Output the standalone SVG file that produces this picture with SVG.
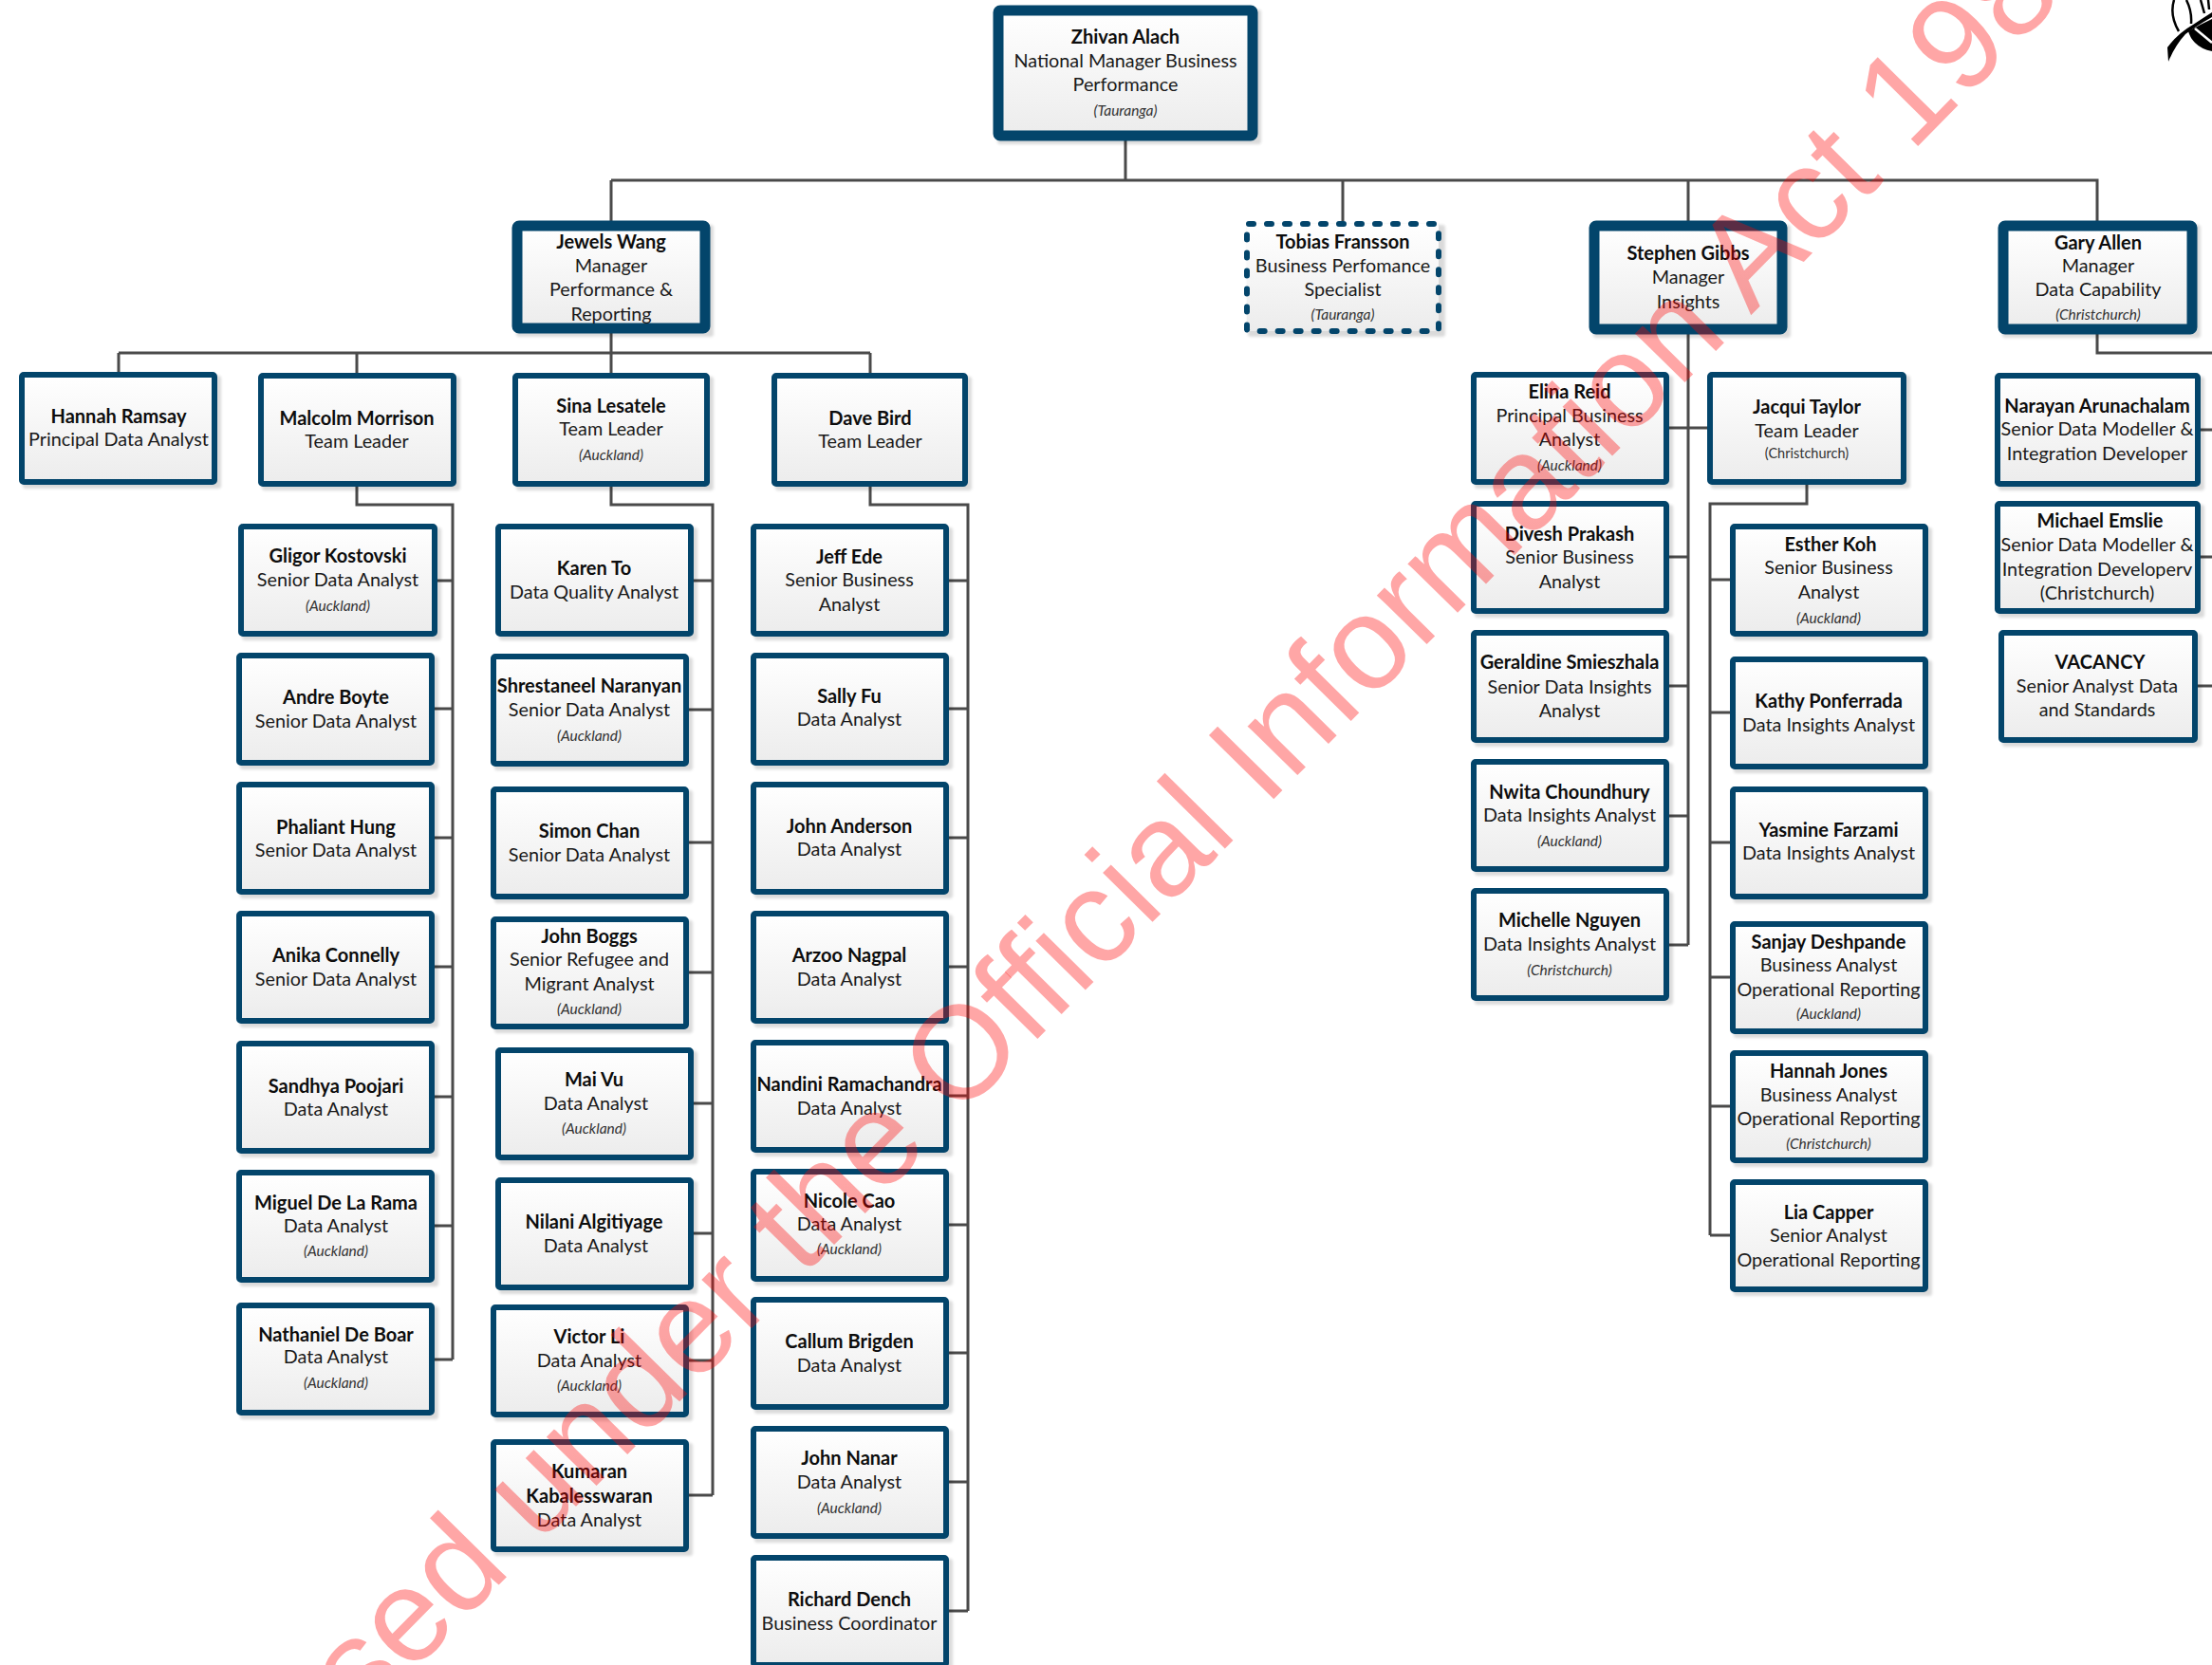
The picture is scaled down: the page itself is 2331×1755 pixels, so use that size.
<svg xmlns="http://www.w3.org/2000/svg" width="2331" height="1755" viewBox="0 0 2331 1755">
<style>
text{font-family:Lato,"Liberation Sans",sans-serif;text-anchor:middle;fill:#1a1a1a;font-size:19.8px}
.n{font-weight:700;fill:#0d0d0d;font-size:20px;transform:translateY(1px)}
.l{font-style:italic;font-size:15.5px;fill:#333}
.p{font-size:14.5px;fill:#333}
.b{fill:url(#g);stroke:#03456b;stroke-width:6}
.t{fill:url(#g);stroke:#03456b;stroke-width:11}
.d{fill:url(#g);stroke:#03456b;stroke-width:6;stroke-dasharray:5 14;stroke-linecap:round}
.s{fill:#000;opacity:.14;filter:url(#f)}
#connectors path{fill:none;stroke:#4a4a4a;stroke-width:3}
#watermark text{font-family:"Liberation Sans",Arial,sans-serif;font-size:139.5px;fill:#f00;fill-opacity:.35}
</style>
<defs>
<linearGradient id="g" x1="0" y1="0" x2="0" y2="1"><stop offset="0" stop-color="#fff"/><stop offset="1" stop-color="#ececec"/></linearGradient>
<filter id="f" x="-5%" y="-5%" width="110%" height="110%"><feGaussianBlur stdDeviation="1.5"/></filter>
</defs>
<rect width="2331" height="1755" fill="#fff"/>
<g id="connectors">
<path d="M1186 148V190M644 190H2210V233M644 190V233M1415 190V233M1779 190V996"/>
<path d="M644 351V372M125 372H917M125 372V392M376 372V393M644 372V393M917 372V393"/>
<path d="M376 513V532H477V1433M644 513V532H751V1576M917 513V532H1020V1698"/>
<path d="M459 612H477M456 747H477M456 883H477M456 1019H477M456 1156H477M456 1292H477M456 1433H477"/>
<path d="M728 612H751M724 748H751M724 888H751M724 1025H751M728 1163H751M728 1300H751M724 1434H751M724 1576H751"/>
<path d="M998 612H1020M998 747H1020M998 883H1020M998 1019H1020M998 1155H1020M998 1291H1020M998 1426H1020M998 1562H1020M998 1698H1020"/>
<path d="M1757 451H1800M1757 587H1779M1757 723H1779M1757 860H1779M1757 996H1779"/>
<path d="M1904 511V531H1802V1302M1802 611H1825M1802 751H1825M1802 888H1825M1802 1030H1825M1802 1166H1825M1802 1302H1825"/>
<path d="M2210 352V372H2331M2317 453H2331M2317 587H2331M2314 723H2331"/>
</g>
<g id="logo">
<path d="M2285 65L2284 50Q2295 35 2311 26Q2320 20 2331 13V18Q2315 27 2303 36Q2292 48 2285 65Z" fill="#000"/>
<path d="M2306 33Q2318 26 2331 20V54Q2320 52 2313 45Q2308 40 2306 33Z" fill="#000"/>
<path d="M2313 30L2331 45" stroke="#fff" stroke-width="2.5" fill="none"/>
<path d="M2291 0Q2286 16 2296 33M2304 0Q2310 12 2309 25M2319 0L2323 14M2327 0L2328 10" stroke="#000" stroke-width="2.5" fill="none"/>
</g>
<g id="n1"><rect class="s" x="1051" y="10" width="278" height="142" rx="3"/><rect class="t" x="1052" y="11" width="268" height="132" rx="2"/><text class="n" x="1186" y="45">Zhivan Alach</text><text x="1186" y="71">National Manager Business</text><text x="1186" y="96">Performance</text><text class="l" x="1186" y="122">(Tauranga)</text></g>
<g id="n2"><rect class="s" x="544" y="237" width="208" height="118" rx="3"/><rect class="t" x="545" y="238" width="198" height="108" rx="2"/><text class="n" x="644" y="261">Jewels Wang</text><text x="644" y="287">Manager</text><text x="644" y="312">Performance &amp;</text><text x="644" y="338">Reporting</text></g>
<g id="n3"><rect class="s" x="1315" y="237" width="208" height="118" rx="3"/><rect class="d" x="1314" y="236" width="202" height="113" rx="2"/><text class="n" x="1415" y="261">Tobias Fransson</text><text x="1415" y="287">Business Perfomance</text><text x="1415" y="312">Specialist</text><text class="l" x="1415" y="337">(Tauranga)</text></g>
<g id="n4"><rect class="s" x="1679" y="237" width="208" height="119" rx="3"/><rect class="t" x="1680" y="238" width="198" height="109" rx="2"/><text class="n" x="1779" y="273">Stephen Gibbs</text><text x="1779" y="299">Manager</text><text x="1779" y="325">Insights</text></g>
<g id="n5"><rect class="s" x="2110" y="237" width="209" height="119" rx="3"/><rect class="t" x="2111" y="238" width="199" height="109" rx="2"/><text class="n" x="2211" y="262">Gary Allen</text><text x="2211" y="287">Manager</text><text x="2211" y="312">Data Capability</text><text class="l" x="2211" y="337">(Christchurch)</text></g>
<g id="n6"><rect class="s" x="24" y="396" width="209" height="119" rx="3"/><rect class="b" x="23" y="395" width="203" height="113" rx="2"/><text class="n" x="125" y="445">Hannah Ramsay</text><text x="125" y="470">Principal Data Analyst</text></g>
<g id="n7"><rect class="s" x="276" y="397" width="209" height="120" rx="3"/><rect class="b" x="275" y="396" width="203" height="114" rx="2"/><text class="n" x="376" y="447">Malcolm Morrison</text><text x="376" y="472">Team Leader</text></g>
<g id="n8"><rect class="s" x="544" y="397" width="208" height="120" rx="3"/><rect class="b" x="543" y="396" width="202" height="114" rx="2"/><text class="n" x="644" y="434">Sina Lesatele</text><text x="644" y="459">Team Leader</text><text class="l" x="644" y="485">(Auckland)</text></g>
<g id="n9"><rect class="s" x="817" y="397" width="207" height="120" rx="3"/><rect class="b" x="816" y="396" width="201" height="114" rx="2"/><text class="n" x="917" y="447">Dave Bird</text><text x="917" y="472">Team Leader</text></g>
<g id="n10"><rect class="s" x="255" y="556" width="210" height="119" rx="3"/><rect class="b" x="254" y="555" width="204" height="113" rx="2"/><text class="n" x="356" y="592">Gligor Kostovski</text><text x="356" y="618">Senior Data Analyst</text><text class="l" x="356" y="644">(Auckland)</text></g>
<g id="n11"><rect class="s" x="253" y="692" width="209" height="119" rx="3"/><rect class="b" x="252" y="691" width="203" height="113" rx="2"/><text class="n" x="354" y="741">Andre Boyte</text><text x="354" y="767">Senior Data Analyst</text></g>
<g id="n12"><rect class="s" x="253" y="828" width="209" height="119" rx="3"/><rect class="b" x="252" y="827" width="203" height="113" rx="2"/><text class="n" x="354" y="878">Phaliant Hung</text><text x="354" y="903">Senior Data Analyst</text></g>
<g id="n13"><rect class="s" x="253" y="964" width="209" height="119" rx="3"/><rect class="b" x="252" y="963" width="203" height="113" rx="2"/><text class="n" x="354" y="1013">Anika Connelly</text><text x="354" y="1039">Senior Data Analyst</text></g>
<g id="n14"><rect class="s" x="253" y="1101" width="209" height="119" rx="3"/><rect class="b" x="252" y="1100" width="203" height="113" rx="2"/><text class="n" x="354" y="1151">Sandhya Poojari</text><text x="354" y="1176">Data Analyst</text></g>
<g id="n15"><rect class="s" x="253" y="1237" width="209" height="119" rx="3"/><rect class="b" x="252" y="1236" width="203" height="113" rx="2"/><text class="n" x="354" y="1274">Miguel De La Rama</text><text x="354" y="1299">Data Analyst</text><text class="l" x="354" y="1324">(Auckland)</text></g>
<g id="n16"><rect class="s" x="253" y="1377" width="209" height="119" rx="3"/><rect class="b" x="252" y="1376" width="203" height="113" rx="2"/><text class="n" x="354" y="1413">Nathaniel De Boar</text><text x="354" y="1437">Data Analyst</text><text class="l" x="354" y="1463">(Auckland)</text></g>
<g id="n17"><rect class="s" x="526" y="556" width="209" height="119" rx="3"/><rect class="b" x="525" y="555" width="203" height="113" rx="2"/><text class="n" x="626" y="605">Karen To</text><text x="626" y="631">Data Quality Analyst</text></g>
<g id="n18"><rect class="s" x="521" y="693" width="209" height="119" rx="3"/><rect class="b" x="520" y="692" width="203" height="113" rx="2"/><text class="n" x="621" y="729">Shrestaneel Naranyan</text><text x="621" y="755">Senior Data Analyst</text><text class="l" x="621" y="781">(Auckland)</text></g>
<g id="n19"><rect class="s" x="521" y="833" width="209" height="119" rx="3"/><rect class="b" x="520" y="832" width="203" height="113" rx="2"/><text class="n" x="621" y="882">Simon Chan</text><text x="621" y="908">Senior Data Analyst</text></g>
<g id="n20"><rect class="s" x="521" y="970" width="209" height="119" rx="3"/><rect class="b" x="520" y="969" width="203" height="113" rx="2"/><text class="n" x="621" y="993">John Boggs</text><text x="621" y="1018">Senior Refugee and</text><text x="621" y="1044">Migrant Analyst</text><text class="l" x="621" y="1069">(Auckland)</text></g>
<g id="n21"><rect class="s" x="526" y="1108" width="209" height="119" rx="3"/><rect class="b" x="525" y="1107" width="203" height="113" rx="2"/><text class="n" x="626" y="1144">Mai Vu</text><text x="628" y="1170">Data Analyst</text><text class="l" x="626" y="1195">(Auckland)</text></g>
<g id="n22"><rect class="s" x="526" y="1245" width="209" height="119" rx="3"/><rect class="b" x="525" y="1244" width="203" height="113" rx="2"/><text class="n" x="626" y="1294">Nilani Algitiyage</text><text x="628" y="1320">Data Analyst</text></g>
<g id="n23"><rect class="s" x="521" y="1379" width="209" height="119" rx="3"/><rect class="b" x="520" y="1378" width="203" height="113" rx="2"/><text class="n" x="621" y="1415">Victor Li</text><text x="621" y="1441">Data Analyst</text><text class="l" x="621" y="1466">(Auckland)</text></g>
<g id="n24"><rect class="s" x="521" y="1521" width="209" height="119" rx="3"/><rect class="b" x="520" y="1520" width="203" height="113" rx="2"/><text class="n" x="621" y="1557">Kumaran</text><text class="n" x="621" y="1583">Kabalesswaran</text><text x="621" y="1609">Data Analyst</text></g>
<g id="n25"><rect class="s" x="795" y="556" width="209" height="119" rx="3"/><rect class="b" x="794" y="555" width="203" height="113" rx="2"/><text class="n" x="895" y="593">Jeff Ede</text><text x="895" y="618">Senior Business</text><text x="895" y="644">Analyst</text></g>
<g id="n26"><rect class="s" x="795" y="692" width="209" height="119" rx="3"/><rect class="b" x="794" y="691" width="203" height="113" rx="2"/><text class="n" x="895" y="740">Sally Fu</text><text x="895" y="765">Data Analyst</text></g>
<g id="n27"><rect class="s" x="795" y="828" width="209" height="119" rx="3"/><rect class="b" x="794" y="827" width="203" height="113" rx="2"/><text class="n" x="895" y="877">John Anderson</text><text x="895" y="902">Data Analyst</text></g>
<g id="n28"><rect class="s" x="795" y="964" width="209" height="119" rx="3"/><rect class="b" x="794" y="963" width="203" height="113" rx="2"/><text class="n" x="895" y="1013">Arzoo Nagpal</text><text x="895" y="1039">Data Analyst</text></g>
<g id="n29"><rect class="s" x="795" y="1100" width="209" height="119" rx="3"/><rect class="b" x="794" y="1099" width="203" height="113" rx="2"/><text class="n" x="895" y="1149">Nandini Ramachandra</text><text x="895" y="1175">Data Analyst</text></g>
<g id="n30"><rect class="s" x="795" y="1236" width="209" height="119" rx="3"/><rect class="b" x="794" y="1235" width="203" height="113" rx="2"/><text class="n" x="895" y="1272">Nicole Cao</text><text x="895" y="1297">Data Analyst</text><text class="l" x="895" y="1322">(Auckland)</text></g>
<g id="n31"><rect class="s" x="795" y="1371" width="209" height="119" rx="3"/><rect class="b" x="794" y="1370" width="203" height="113" rx="2"/><text class="n" x="895" y="1420">Callum Brigden</text><text x="895" y="1446">Data Analyst</text></g>
<g id="n32"><rect class="s" x="795" y="1507" width="209" height="119" rx="3"/><rect class="b" x="794" y="1506" width="203" height="113" rx="2"/><text class="n" x="895" y="1543">John Nanar</text><text x="895" y="1569">Data Analyst</text><text class="l" x="895" y="1595">(Auckland)</text></g>
<g id="n33"><rect class="s" x="795" y="1643" width="209" height="119" rx="3"/><rect class="b" x="794" y="1642" width="203" height="113" rx="2"/><text class="n" x="895" y="1692">Richard Dench</text><text x="895" y="1718">Business Coordinator</text></g>
<g id="n34"><rect class="s" x="1554" y="396" width="209" height="119" rx="3"/><rect class="b" x="1553" y="395" width="203" height="113" rx="2"/><text class="n" x="1654" y="419">Elina Reid</text><text x="1654" y="445">Principal Business</text><text x="1654" y="470">Analyst</text><text class="l" x="1654" y="496">(Auckland)</text></g>
<g id="n35"><rect class="s" x="1554" y="532" width="209" height="119" rx="3"/><rect class="b" x="1553" y="531" width="203" height="113" rx="2"/><text class="n" x="1654" y="569">Divesh Prakash</text><text x="1654" y="594">Senior Business</text><text x="1654" y="620">Analyst</text></g>
<g id="n36"><rect class="s" x="1554" y="668" width="209" height="119" rx="3"/><rect class="b" x="1553" y="667" width="203" height="113" rx="2"/><text class="n" x="1654" y="704">Geraldine Smieszhala</text><text x="1654" y="731">Senior Data Insights</text><text x="1654" y="756">Analyst</text></g>
<g id="n37"><rect class="s" x="1554" y="804" width="209" height="119" rx="3"/><rect class="b" x="1553" y="803" width="203" height="113" rx="2"/><text class="n" x="1654" y="841">Nwita Choundhury</text><text x="1654" y="866">Data Insights Analyst</text><text class="l" x="1654" y="892">(Auckland)</text></g>
<g id="n38"><rect class="s" x="1554" y="940" width="209" height="119" rx="3"/><rect class="b" x="1553" y="939" width="203" height="113" rx="2"/><text class="n" x="1654" y="976">Michelle Nguyen</text><text x="1654" y="1002">Data Insights Analyst</text><text class="l" x="1654" y="1028">(Christchurch)</text></g>
<g id="n39"><rect class="s" x="1803" y="396" width="210" height="119" rx="3"/><rect class="b" x="1802" y="395" width="204" height="113" rx="2"/><text class="n" x="1904" y="435">Jacqui Taylor</text><text x="1904" y="461">Team Leader</text><text class="p" x="1904" y="483">(Christchurch)</text></g>
<g id="n40"><rect class="s" x="1827" y="556" width="209" height="119" rx="3"/><rect class="b" x="1826" y="555" width="203" height="113" rx="2"/><text class="n" x="1929" y="580">Esther Koh</text><text x="1927" y="605">Senior Business</text><text x="1927" y="631">Analyst</text><text class="l" x="1927" y="657">(Auckland)</text></g>
<g id="n41"><rect class="s" x="1827" y="696" width="209" height="119" rx="3"/><rect class="b" x="1826" y="695" width="203" height="113" rx="2"/><text class="n" x="1927" y="745">Kathy Ponferrada</text><text x="1927" y="771">Data Insights Analyst</text></g>
<g id="n42"><rect class="s" x="1827" y="833" width="209" height="119" rx="3"/><rect class="b" x="1826" y="832" width="203" height="113" rx="2"/><text class="n" x="1927" y="881">Yasmine Farzami</text><text x="1927" y="906">Data Insights Analyst</text></g>
<g id="n43"><rect class="s" x="1827" y="975" width="209" height="119" rx="3"/><rect class="b" x="1826" y="974" width="203" height="113" rx="2"/><text class="n" x="1927" y="999">Sanjay Deshpande</text><text x="1927" y="1024">Business Analyst</text><text x="1927" y="1050">Operational Reporting</text><text class="l" x="1927" y="1074">(Auckland)</text></g>
<g id="n44"><rect class="s" x="1827" y="1111" width="209" height="119" rx="3"/><rect class="b" x="1826" y="1110" width="203" height="113" rx="2"/><text class="n" x="1927" y="1135">Hannah Jones</text><text x="1927" y="1161">Business Analyst</text><text x="1927" y="1186">Operational Reporting</text><text class="l" x="1927" y="1211">(Christchurch)</text></g>
<g id="n45"><rect class="s" x="1827" y="1247" width="209" height="119" rx="3"/><rect class="b" x="1826" y="1246" width="203" height="113" rx="2"/><text class="n" x="1927" y="1284">Lia Capper</text><text x="1927" y="1309">Senior Analyst</text><text x="1927" y="1335">Operational Reporting</text></g>
<g id="n46"><rect class="s" x="2106" y="397" width="217" height="120" rx="3"/><rect class="b" x="2105" y="396" width="211" height="114" rx="2"/><text class="n" x="2210" y="434">Narayan Arunachalam</text><text x="2210" y="459">Senior Data Modeller &amp;</text><text x="2210" y="485">Integration Developer</text></g>
<g id="n47"><rect class="s" x="2106" y="532" width="217" height="119" rx="3"/><rect class="b" x="2105" y="531" width="211" height="113" rx="2"/><text class="n" x="2213" y="555">Michael Emslie</text><text x="2210" y="581">Senior Data Modeller &amp;</text><text x="2210" y="607">Integration Developerv</text><text x="2210" y="632">(Christchurch)</text></g>
<g id="n48"><rect class="s" x="2110" y="668" width="210" height="119" rx="3"/><rect class="b" x="2109" y="667" width="204" height="113" rx="2"/><text class="n" x="2213" y="704">VACANCY</text><text x="2210" y="730">Senior Analyst Data</text><text x="2210" y="755">and Standards</text></g>
<g id="watermark"><text transform="translate(1179 1008) rotate(-45.4)">Released under the Official Information Act 1982</text></g>
</svg>
